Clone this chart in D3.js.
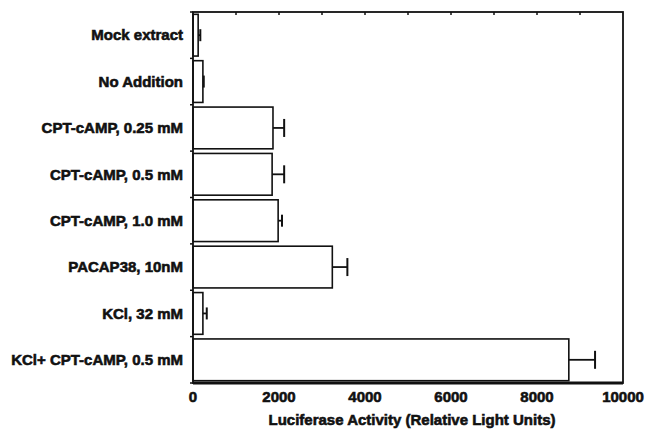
<!DOCTYPE html>
<html>
<head>
<meta charset="utf-8">
<script src="https://cdn.jsdelivr.net/npm/d3@7"></script>
<style>
  body { margin: 0; background: #fff; }
  text { font-family: 'Liberation Sans', Arial, sans-serif; font-weight: bold; fill: #111; }
</style>
</head>
<body>
<script>
var categories = ['Mock extract', 'No Addition', 'CPT-cAMP, 0.25 mM', 'CPT-cAMP, 0.5 mM',
  'CPT-cAMP, 1.0 mM', 'PACAP38, 10nM', 'KCl, 32 mM', 'KCl+ CPT-cAMP, 0.5 mM']
var values = [120, 230, 1860, 1840, 1980, 3240, 230, 8740]
var errors = [50, 20, 260, 280, 90, 350, 90, 610]
var xTicks = [0, 2000, 4000, 6000, 8000, 10000]
var xTitle = 'Luciferase Activity (Relative Light Units)'

var w = 645
var h = 430

var margin = {
  top: 12,
  right: 22,
  bottom: 47,
  left: 193
}

var width = w - margin.left - margin.right
var height = h - margin.top - margin.bottom

var svg = d3.select('body')
            .append('svg')
            .attr('width', w)
            .attr('height', h)

var chart = svg.append('g')
              .attr('transform', 'translate(' + margin.left + ',' + margin.top + ')')

var x = d3.scaleLinear()
        .domain([0, 10000])
        .range([0, width])

var y = d3.scaleBand()
        .domain(categories)
        .range([0, height])
        .paddingInner(0.1)
        .paddingOuter(0.05)

var data = categories.map(function (c, i) {
  return {key: c, value: values[i], err: errors[i]}
})

// BARS
chart.selectAll('.bar')
    .data(data)
    .enter()
      .append('rect')
      .classed('bar', true)
      .attr('x', 0)
      .attr('y', function (d) { return y(d.key) })
      .attr('width', function (d) { return x(d.value) })
      .attr('height', y.bandwidth())
      .style('fill', '#fff')
      .style('stroke', '#111')
      .style('stroke-width', 1.6)

// ERROR BARS
var eb = chart.selectAll('.err')
    .data(data)
    .enter()
      .append('g')
      .classed('err', true)
      .attr('transform', function (d) { return 'translate(0,' + (y(d.key) + y.bandwidth() / 2) + ')' })

eb.append('line')
    .attr('x1', function (d) { return x(d.value) })
    .attr('x2', function (d) { return x(d.value + d.err) })
    .style('stroke', '#111')
    .style('stroke-width', 1.8)

eb.append('line')
    .attr('x1', function (d) { return x(d.value + d.err) })
    .attr('x2', function (d) { return x(d.value + d.err) })
    .attr('y1', function (d) { return d.err < 150 ? -6 : -9 })
    .attr('y2', function (d) { return d.err < 150 ? 6 : 9 })
    .style('stroke', '#111')
    .style('stroke-width', 2)

// FRAME
chart.append('rect')
    .attr('width', width)
    .attr('height', height)
    .style('fill', 'none')
    .style('stroke', '#111')
    .style('stroke-width', 1.8)

chart.append('line')
    .attr('x1', 0)
    .attr('x2', width)
    .attr('y1', height)
    .attr('y2', height)
    .style('stroke', '#111')
    .style('stroke-width', 3)

// TOP MINOR TICKS
chart.selectAll('.top-tick')
    .data(d3.range(1000, 10000, 1000))
    .enter()
      .append('line')
      .attr('x1', function (d) { return x(d) })
      .attr('x2', function (d) { return x(d) })
      .attr('y1', 0)
      .attr('y2', 3)
      .style('stroke', '#111')
      .style('stroke-width', 1.5)

// LEFT TICKS at band edges
chart.selectAll('.left-tick')
    .data(d3.range(0, categories.length + 1))
    .enter()
      .append('line')
      .attr('x1', -3)
      .attr('x2', 0)
      .attr('y1', function (i) { return i * height / categories.length })
      .attr('y2', function (i) { return i * height / categories.length })
      .style('stroke', '#111')
      .style('stroke-width', 1.5)

// CATEGORY LABELS
chart.selectAll('.cat-label')
    .data(categories)
    .enter()
      .append('text')
      .text(function (d) { return d })
      .attr('x', -10)
      .attr('y', function (d) { return y(d) + y.bandwidth() / 2 })
      .attr('dy', '0.35em')
      .attr('text-anchor', 'end')
      .style('font-size', '15px')
      .style('stroke', '#111')
      .style('stroke-width', 0.6)

// X TICK LABELS
chart.selectAll('.x-label')
    .data(xTicks)
    .enter()
      .append('text')
      .text(function (d) { return d })
      .attr('x', function (d) { return x(d) })
      .attr('y', height + 19)
      .attr('text-anchor', 'middle')
      .style('font-size', '15px')
      .style('stroke', '#111')
      .style('stroke-width', 0.6)

chart.append('text')
    .text(xTitle)
    .attr('x', 412 - margin.left)
    .attr('y', height + 42)
    .attr('text-anchor', 'middle')
    .style('font-size', '15px')
    .style('stroke', '#111')
    .style('stroke-width', 0.6)
</script>
</body>
</html>
